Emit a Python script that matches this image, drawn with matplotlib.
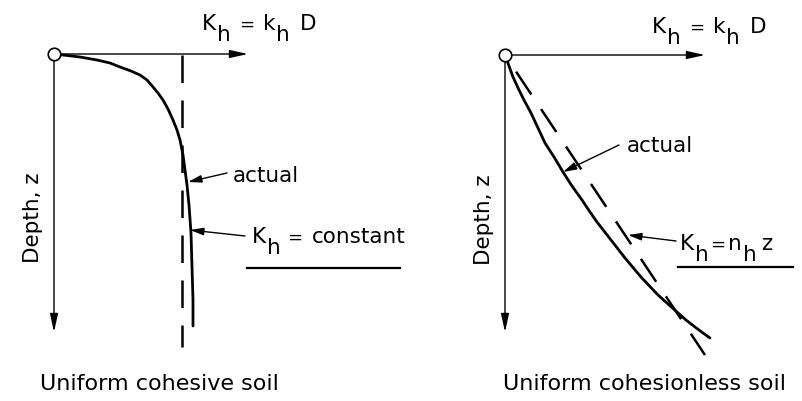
import matplotlib
matplotlib.use('Agg')
import matplotlib.pyplot as plt

plt.rcParams['font.family'] = ['DejaVu Sans']

# ---- data: lateral stiffness profiles vs depth (drawing units from pile head) ----
cohesive_actual_K = [0, 9, 26, 43, 56, 66, 77, 86, 93, 99, 104, 109, 114, 119, 123, 126,
                     129, 131, 133, 135, 137, 138, 139, 139]
cohesive_actual_z = [0, 1, 3, 6, 9, 13, 17, 21, 26, 33, 39, 46, 55, 66, 76, 86,
                     101, 116, 131, 151, 179, 213, 246, 272]
cohesive_const_K = [128, 128]
cohesive_const_z = [1, 293]

cohesionless_actual_K = [0, 4, 8, 14, 19, 26, 33, 40, 49, 58, 67, 77, 85, 92, 99, 106,
                         120, 136, 153, 172, 181, 190, 198, 205]
cohesionless_actual_z = [0, 11, 22, 35, 45, 58, 73, 88, 102, 117, 131, 145, 157, 167, 176, 185,
                         203, 222, 240, 257, 265, 272, 278, 283]
cohesionless_linear_K = [0, 200]
cohesionless_linear_z = [0, 300]

# text pieces: (string, lowered?, size factor)
top_label = [('K', 0, 1), ('h', 1, 1), ('=', 0, 0.85), ('k', 0, 1), ('h', 1, 1), ('D', 0, 1)]
top_gaps = [1, 8, 9, 1, 10, 0]
const_labels = [
    ([('K', 0, 1), ('h', 1, 1), ('=', 0, 0.85), ('constant', 0, 1)], [1, 6, 10, 0]),
    ([('K', 0, 1), ('h', 1, 1), ('=', 0, 0.85), ('n', 0, 1), ('h', 1, 1), ('z', 0, 1)],
     [1, 1, 3, 1, 5, 0]),
]
depth_label = 'Depth, z'
captions = ['Uniform cohesive soil', 'Uniform cohesionless soil']

# ---- layout ----
fig = plt.figure(figsize=(8.02, 4.01), dpi=100)
ax = fig.add_axes([0, 0, 1, 1])
ax.set_xlim(0, 802)
ax.set_ylim(401, 0)
ax.axis('off')
renderer = fig.canvas.get_renderer()


def draw_pieces(x, y, pieces, gaps, size, drop):
    for (s, low, f), g in zip(pieces, gaps):
        t = ax.text(x, y + drop * low, s, fontsize=size * f, ha='left', va='baseline')
        x += t.get_window_extent(renderer).width + g


axis_arrow = dict(arrowstyle='-|>,head_length=1.0,head_width=0.22', lw=1.0,
                  color='black', shrinkA=0, shrinkB=0, mutation_scale=11)
lead_arrow = dict(arrowstyle='-|>,head_length=0.9,head_width=0.25', lw=1.0,
                  color='black', shrinkA=0, shrinkB=0, mutation_scale=9)

panels = [
    dict(o=(54, 54), xend=248, yend=332,
         aK=cohesive_actual_K, az=cohesive_actual_z,
         dK=cohesive_const_K, dz=cohesive_const_z, dash=(0, (11, 7)),
         top=(202, 30), depth=(33, 218),
         act_txt=(233, 176), act_from=(227, 173), act_to=(188, 182),
         c_txt=(252, 243), c_from=(245, 236), c_to=(190, 230),
         ul=(247, 400, 268), cap=(40, 384)),
    dict(o=(505, 55), xend=705, yend=332,
         aK=cohesionless_actual_K, az=cohesionless_actual_z,
         dK=cohesionless_linear_K, dz=cohesionless_linear_z, dash=(10, (11, 7)),
         top=(652, 33), depth=(484, 220),
         act_txt=(627, 146), act_from=(619, 145), act_to=(563, 172),
         c_txt=(680, 250), c_from=(676, 241), c_to=(628, 235),
         ul=(678, 793, 267), cap=(503, 384)),
]

for i, p in enumerate(panels):
    ox, oy = p['o']
    ax.annotate('', xy=(p['xend'], oy), xytext=(ox, oy), arrowprops=axis_arrow)
    ax.annotate('', xy=(ox, p['yend']), xytext=(ox, oy), arrowprops=axis_arrow)
    ax.plot([ox + k for k in p['dK']], [oy + z for z in p['dz']], color='black',
            lw=1.8, linestyle=p['dash'], dash_capstyle='butt')
    ax.plot([ox + k for k in p['aK']], [oy + z for z in p['az']], color='black',
            lw=2.0, solid_capstyle='round', solid_joinstyle='round')
    ax.plot([ox], [oy], marker='o', ms=9, mfc='white', mec='black', mew=1.2, zorder=5)

    draw_pieces(p['top'][0], p['top'][1], top_label, top_gaps, 15.5, 11)
    ax.text(p['depth'][0], p['depth'][1], depth_label, fontsize=15.5, rotation=90,
            ha='center', va='center')
    ax.text(p['act_txt'][0], p['act_txt'][1], 'actual', fontsize=15.5, ha='left', va='center')
    ax.annotate('', xy=p['act_to'], xytext=p['act_from'], arrowprops=lead_arrow)
    pcs, gps = const_labels[i]
    draw_pieces(p['c_txt'][0], p['c_txt'][1], pcs, gps, 15.5, 11)
    ax.annotate('', xy=p['c_to'], xytext=p['c_from'], arrowprops=lead_arrow)
    x0, x1, yu = p['ul']
    ax.plot([x0, x1], [yu, yu], color='black', lw=1.6)
    ax.text(p['cap'][0], p['cap'][1], captions[i], fontsize=16, ha='left', va='center')

fig.savefig('out.png', dpi=100)
